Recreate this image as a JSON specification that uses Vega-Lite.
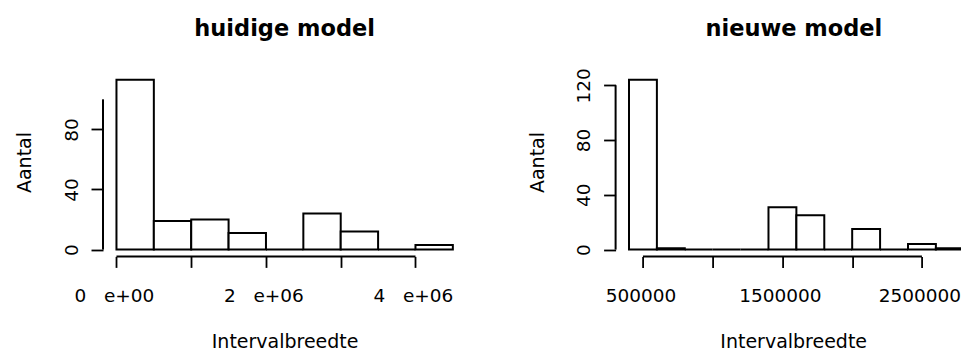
{
  "$schema": "https://vega.github.io/schema/vega-lite/v6.json",
  "background": "white",
  "padding": {"left": 15, "top": 18, "right": 0, "bottom": 0},
  "bounds": "flush",
  "spacing": 148.6,
  "config": {
    "view": {"stroke": null},
    "axis": {
      "grid": false,
      "domain": false,
      "tickColor": "black",
      "tickWidth": 1.8,
      "labelFont": "DejaVu Sans",
      "labelFontSize": 18.5,
      "labelColor": "black",
      "labelOverlap": false,
      "labelFlush": false,
      "titleFont": "DejaVu Sans",
      "titleFontSize": 19,
      "titleFontWeight": "normal",
      "titleColor": "black"
    },
    "title": {
      "font": "DejaVu Sans",
      "fontSize": 22.5,
      "fontWeight": "bold",
      "color": "black",
      "frame": "group",
      "anchor": "middle",
      "baseline": "alphabetic"
    }
  },
  "datasets": {
    "huidig": [
      {"start": 0, "end": 500000, "count": 113},
      {"start": 500000, "end": 1000000, "count": 19},
      {"start": 1000000, "end": 1500000, "count": 20},
      {"start": 1500000, "end": 2000000, "count": 11},
      {"start": 2000000, "end": 2500000, "count": 0},
      {"start": 2500000, "end": 3000000, "count": 24},
      {"start": 3000000, "end": 3500000, "count": 12},
      {"start": 3500000, "end": 4000000, "count": 0},
      {"start": 4000000, "end": 4500000, "count": 3}
    ],
    "nieuw": [
      {"start": 400000, "end": 600000, "count": 124},
      {"start": 600000, "end": 800000, "count": 1},
      {"start": 800000, "end": 1000000, "count": 0},
      {"start": 1000000, "end": 1200000, "count": 0},
      {"start": 1200000, "end": 1400000, "count": 0},
      {"start": 1400000, "end": 1600000, "count": 31},
      {"start": 1600000, "end": 1800000, "count": 25},
      {"start": 1800000, "end": 2000000, "count": 0},
      {"start": 2000000, "end": 2200000, "count": 15},
      {"start": 2200000, "end": 2400000, "count": 0},
      {"start": 2400000, "end": 2600000, "count": 4},
      {"start": 2600000, "end": 2800000, "count": 1}
    ],
    "one": [{"k": 1}]
  },
  "hconcat": [
    {
      "width": 363.3,
      "height": 183.4,
      "title": {"text": "huidige model", "frame": "group", "anchor": "middle", "baseline": "alphabetic", "offset": 14},
      "layer": [
        {
          "data": {"name": "huidig"},
          "mark": {"type": "rect", "fill": "white", "stroke": "black", "strokeWidth": 2},
          "encoding": {
            "x": {
              "field": "start", "type": "quantitative",
              "scale": {"domain": [-180000, 4680000], "nice": false, "zero": false},
              "axis": {
                "title": "Intervalbreedte",
                "values": [0, 1000000, 2000000, 3000000, 4000000],
                "tickSize": 11,
                "labelPadding": 34,
                "labelBaseline": "alphabetic",
                "labelOffset": -2.5,
                "labelExpr": "datum.value == 0 ? '0\u00a0\u00a0\u00a0e+00' : datum.value == 2000000 ? '2\u00a0\u00a0\u00a0e+06' : datum.value == 4000000 ? '4\u00a0\u00a0\u00a0e+06' : ''",
                "titleX": 181.6,
                "titleY": 91,
                "titleBaseline": "alphabetic",
                "titleAlign": "center"
              }
            },
            "x2": {"field": "end"},
            "y": {
              "field": "count", "type": "quantitative",
              "scale": {"domain": [-4.52, 117.52], "nice": false, "zero": false},
              "axis": {
                "title": "Aantal",
                "values": [0, 20, 40, 60, 80, 100],
                "tickSize": 12,
                "labelAngle": 270,
                "labelAlign": "center",
                "labelBaseline": "alphabetic",
                "labelPadding": 14,
                "labelExpr": "datum.value % 40 == 0 ? format(datum.value, 'd') : ''",
                "titleX": -72.5,
                "titleY": 89,
                "titleAngle": 270,
                "titleAlign": "center",
                "titleBaseline": "alphabetic"
              }
            },
            "y2": {"datum": 0}
          }
        },
        {
          "data": {"name": "one"},
          "mark": {"type": "rule", "color": "black", "strokeWidth": 2},
          "encoding": {
            "x": {"datum": 0, "type": "quantitative"},
            "x2": {"datum": 4000000},
            "y": {"datum": -4.52, "type": "quantitative"}
          }
        },
        {
          "data": {"name": "one"},
          "mark": {"type": "rule", "color": "black", "strokeWidth": 2},
          "encoding": {
            "x": {"datum": -180000, "type": "quantitative"},
            "y": {"datum": 0, "type": "quantitative"},
            "y2": {"datum": 100}
          }
        }
      ]
    },
    {
      "width": 346.6,
      "height": 183.4,
      "title": {"text": "nieuwe model", "dx": 5, "frame": "group", "anchor": "middle", "baseline": "alphabetic", "offset": 9},
      "layer": [
        {
          "data": {"name": "nieuw"},
          "mark": {"type": "rect", "fill": "white", "stroke": "black", "strokeWidth": 2, "clip": true},
          "encoding": {
            "x": {
              "field": "start", "type": "quantitative",
              "scale": {"domain": [304000, 2788600], "nice": false, "zero": false},
              "axis": {
                "title": "Intervalbreedte",
                "values": [500000, 1000000, 1500000, 2000000, 2500000],
                "tickSize": 11,
                "labelPadding": 34,
                "labelBaseline": "alphabetic",
                "labelOffset": -2.5,
                "labelExpr": "datum.value == 1000000 || datum.value == 2000000 ? '' : format(datum.value, 'd')",
                "titleX": 177.6,
                "titleY": 91,
                "titleBaseline": "alphabetic",
                "titleAlign": "center"
              }
            },
            "x2": {"field": "end"},
            "y": {
              "field": "count", "type": "quantitative",
              "scale": {"domain": [-4.96, 128.96], "nice": false, "zero": false},
              "axis": {
                "title": "Aantal",
                "values": [0, 20, 40, 60, 80, 100, 120],
                "tickSize": 12,
                "labelAngle": 270,
                "labelAlign": "center",
                "labelBaseline": "alphabetic",
                "labelPadding": 14,
                "labelExpr": "datum.value % 40 == 0 ? format(datum.value, 'd') : ''",
                "titleX": -72.5,
                "titleY": 89,
                "titleAngle": 270,
                "titleAlign": "center",
                "titleBaseline": "alphabetic"
              }
            },
            "y2": {"datum": 0}
          }
        },
        {
          "data": {"name": "one"},
          "mark": {"type": "rule", "color": "black", "strokeWidth": 2},
          "encoding": {
            "x": {"datum": 500000, "type": "quantitative"},
            "x2": {"datum": 2500000},
            "y": {"datum": -4.96, "type": "quantitative"}
          }
        },
        {
          "data": {"name": "one"},
          "mark": {"type": "rule", "color": "black", "strokeWidth": 2},
          "encoding": {
            "x": {"datum": 304000, "type": "quantitative"},
            "y": {"datum": 0, "type": "quantitative"},
            "y2": {"datum": 120}
          }
        }
      ]
    }
  ]
}
